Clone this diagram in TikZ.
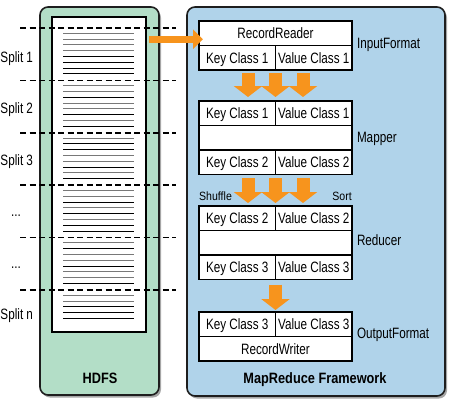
\documentclass[tikz,border=0pt]{standalone}
\usepackage{fontspec}
\setmainfont{Liberation Sans}[FakeStretch=0.78, BoldFeatures={FakeStretch=0.85}]
\newfontfamily\smallfam{Liberation Sans}[FakeStretch=0.88]
\usetikzlibrary{arrows.meta,shadows,calc}
\definecolor{hdfsgreen}{RGB}{179,222,199}
\definecolor{mrblue}{RGB}{176,211,234}
\definecolor{arroworange}{RGB}{247,148,29}
\definecolor{edgedark}{RGB}{30,30,30}
\definecolor{linegray}{RGB}{120,120,120}
\tikzset{
  panel/.style={draw=edgedark, line width=1.6pt, rounded corners=8pt, inner sep=0pt, outer sep=0pt,
    drop shadow={shadow xshift=2pt, shadow yshift=-2.5pt, opacity=0.35, fill=black}},
  cell/.style={draw=black, line width=1.2pt, fill=white, inner sep=0pt, outer sep=0pt,
    minimum height=24.5pt, text height=11pt, text depth=0pt, font=\fontsize{15}{17}\selectfont},
  half/.style={cell, minimum width=76.5pt},
  full/.style={cell, minimum width=153pt},
  lbl/.style={font=\fontsize{15}{17}\selectfont, inner sep=0pt, outer sep=0pt},
  boldlbl/.style={font=\fontsize{15}{17}\selectfont\bfseries, inner sep=0pt, anchor=base},
  smalllbl/.style={font=\smallfam\fontsize{12}{14}\selectfont, inner sep=0pt},
  splitline/.style={dash pattern=on 6pt off 3.5pt, line width=1.6pt, black},
  textline/.style={line width=1.1pt},
  hflow/.style={arroworange, line width=7pt, -{Triangle[length=10pt, width=19pt]}},
  vflow/.style={arroworange, line width=13pt, -{Triangle[length=11pt, width=28pt]}},
}
\begin{document}
\begin{tikzpicture}[x=1pt, y=-1pt]
\useasboundingbox (0,0) rectangle (456,408);

% panels
\node[panel, fill=hdfsgreen, minimum width=119pt, minimum height=388pt] (hdfs) at (99.5,201) {};
\node[panel, fill=mrblue, minimum width=258pt, minimum height=389pt] (mr) at (316,201.5) {};

% paper
\node[draw=black, line width=1.2pt, fill=white, minimum width=94pt, minimum height=315pt,
      inner sep=0pt, outer sep=0pt] (paper) at (99,174.5) {};

% text lines
\foreach \d/\pat in {
  28/{linegray,linegray,linegray,linegray,black,black,black,black},
  80.4/{linegray,linegray,black,linegray,linegray,black,linegray,black},
  132.8/{linegray,black,black,linegray,linegray,black,linegray,black},
  185.2/{linegray,linegray,black,linegray,black,linegray,black,black},
  237.6/{linegray,black,linegray,linegray,black,linegray,linegray,black},
  290/{linegray,linegray,black,black,black}}{
  \foreach \c [count=\k from 0] in \pat {
    \draw[textline, \c] (63,{\d+5.3+5.8*\k}) -- (134,{\d+5.3+5.8*\k});
  }
}

% split dashed lines
\foreach \d in {28,80.4,132.8,185.2,237.6,290}{
  \draw[splitline] (20,\d) -- (176,\d);
}

% split labels
\node[lbl, anchor=base west] (sp1) at (0.5,62) {Split 1};
\node[lbl, anchor=base west] (sp2) at (0.5,113) {Split 2};
\node[lbl, anchor=base west] (sp3) at (0.5,165) {Split 3};
\node[lbl, anchor=base] (sp4) at (16,216) {...};
\node[lbl, anchor=base] (sp5) at (16,268) {...};
\node[lbl, anchor=base west] (spn) at (0.5,319) {Split n};

% InputFormat
\node[full] (rr) at (275.5,33.25) {RecordReader};
\node[half] (ik) at (237.25,57.75) {Key Class 1};
\node[half] (iv) at (313.75,57.75) {Value Class 1};
\node[lbl, anchor=base west] (inlbl) at (357,48) {InputFormat};

% Mapper
\node[half] (mk1) at (237.25,113.25) {Key Class 1};
\node[half] (mv1) at (313.75,113.25) {Value Class 1};
\node[full] (mmid) at (275.5,137.75) {};
\node[half] (mk2) at (237.25,162.25) {Key Class 2};
\node[half] (mv2) at (313.75,162.25) {Value Class 2};
\node[lbl, anchor=base west] (maplbl) at (357,142) {Mapper};

% Reducer
\node[half] (rk2) at (237.25,218.25) {Key Class 2};
\node[half] (rv2) at (313.75,218.25) {Value Class 2};
\node[full] (rmid) at (275.5,242.75) {};
\node[half] (rk3) at (237.25,267.25) {Key Class 3};
\node[half] (rv3) at (313.75,267.25) {Value Class 3};
\node[lbl, anchor=base west] (redlbl) at (357,245) {Reducer};

% OutputFormat
\node[half] (ok3) at (237.25,324.25) {Key Class 3};
\node[half] (ov3) at (313.75,324.25) {Value Class 3};
\node[full] (rw) at (275.5,348.75) {RecordWriter};
\node[lbl, anchor=base west] (outlbl) at (357,338) {OutputFormat};

% shuffle / sort
\node[smalllbl, anchor=base west] (shuf) at (199,200) {Shuffle};
\node[smalllbl, anchor=base east] (sort) at (352,200) {Sort};

% titles
\node[boldlbl] (hdfslbl) at (100,383) {HDFS};
\node[boldlbl] (mrlbl) at (315,383) {MapReduce Framework};

% flows
\coordinate (tipA) at ($(rr.west)+(4,6)$);
\draw[hflow] ($(paper.east|-tipA)+(3,0)$) -- (tipA);

\foreach \dx in {-27.5,0,27.5}{
  \draw[vflow] ($(ik.south east)+(\dx,3)$) -- ($(mk1.north east)+(\dx,-4)$);
  \draw[vflow] ($(mk2.south east)+(\dx,3.5)$) -- ($(rk2.north east)+(\dx,-3)$);
}
\draw[vflow] ($(rk3.south east)+(0,5)$) -- ($(ok3.north east)+(0,-2)$);
\end{tikzpicture}
\end{document}
